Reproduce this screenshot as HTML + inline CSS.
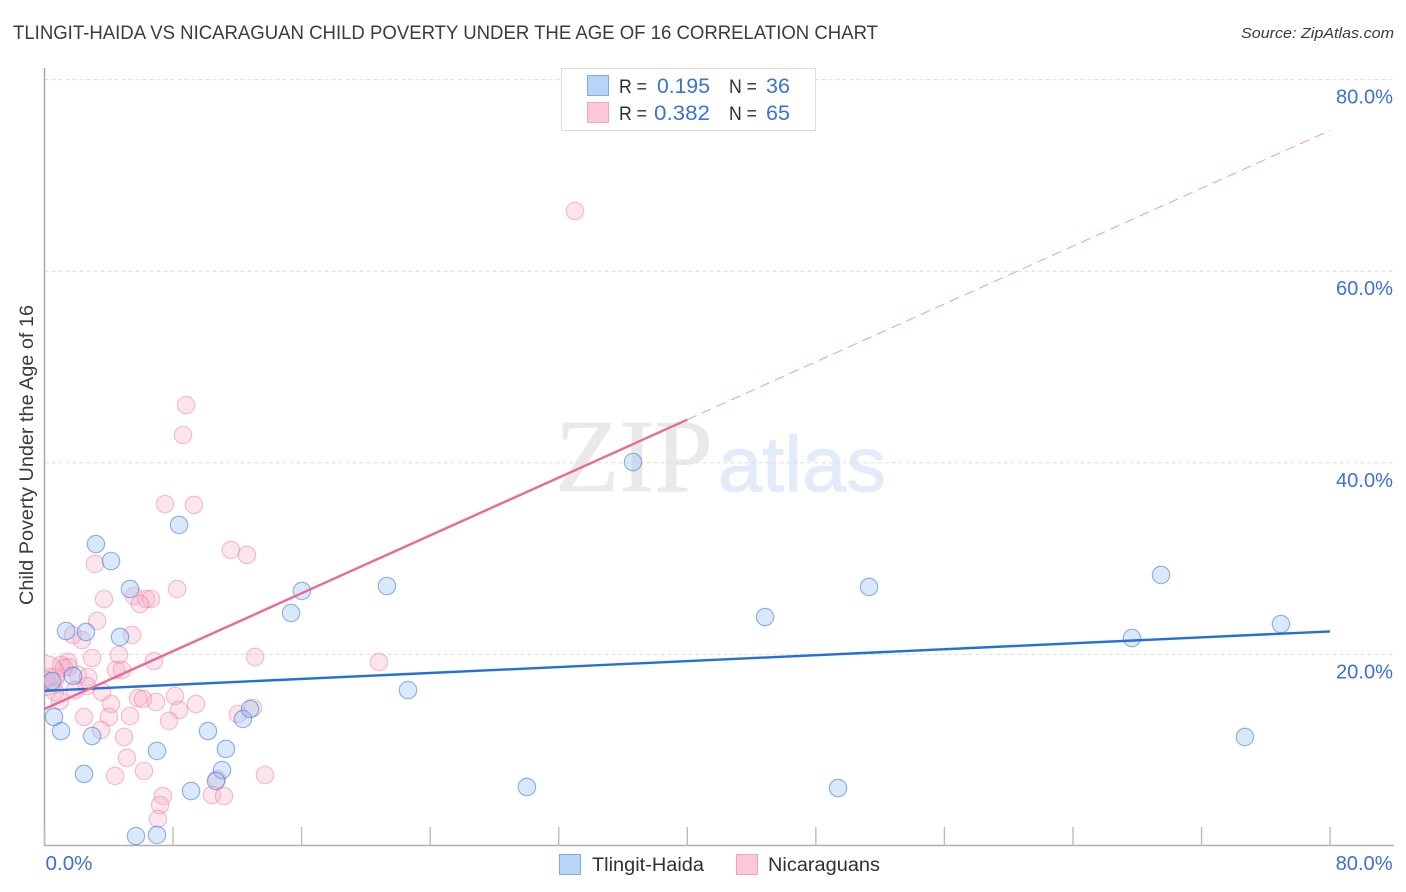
<!DOCTYPE html>
<html lang="en">
<head>
<meta charset="utf-8">
<title>Tlingit-Haida vs Nicaraguan Child Poverty Correlation Chart</title>
<style>
html,body{margin:0;padding:0;background:#fff;width:1406px;height:892px;overflow:hidden}
svg{display:block}
text{font-family:"Liberation Sans",sans-serif}
</style>
</head>
<body>
<svg id="chart" width="1406" height="892" viewBox="0 0 1406 892" xmlns="http://www.w3.org/2000/svg">
  <defs>
    <clipPath id="plot-clip"><rect x="44.5" y="60" width="1350" height="786"/></clipPath>
  </defs>
  <text x="13" y="39" font-size="19" fill="#3a3b40" textLength="865" lengthAdjust="spacingAndGlyphs">TLINGIT-HAIDA VS NICARAGUAN CHILD POVERTY UNDER THE AGE OF 16 CORRELATION CHART</text>
  <text x="1241" y="38" font-size="15" font-style="italic" fill="#3a3a3a" textLength="153" lengthAdjust="spacingAndGlyphs">Source: ZipAtlas.com</text>

  <g>
    <text x="555" y="491" font-size="104" fill="#e9e9e9" stroke="#e9e9e9" stroke-width="0.8" textLength="158" lengthAdjust="spacingAndGlyphs" style="font-family:'Liberation Serif',serif">ZIP</text>
    <text x="718" y="491" font-size="78" fill="#e2ebf9" stroke="#e2ebf9" stroke-width="1" textLength="168" lengthAdjust="spacingAndGlyphs">atlas</text>
  </g>

  <g id="grid"></g>
  <g id="axes"></g>
  <g id="y-labels"></g>
  <g id="x-labels"></g>
  <g id="pink-points" clip-path="url(#plot-clip)"></g>
  <g id="blue-points" clip-path="url(#plot-clip)"></g>
  <g id="trends"></g>

  <text transform="translate(33,605) rotate(-90)" font-size="19" fill="#3a3b40" textLength="300" lengthAdjust="spacingAndGlyphs">Child Poverty Under the Age of 16</text>

  <g>
    <rect x="561.5" y="68.5" width="254" height="62" fill="#fff" stroke="#dcdcdc"/>
    <rect x="587.5" y="75.5" width="21" height="20" fill="#b9d4f8" stroke="#7fabe0"/>
    <rect x="587.5" y="102.5" width="21" height="20" fill="#fcc8d9" stroke="#f0a6bf"/>
    <text x="619" y="93" font-size="19" fill="#2f3036" textLength="28" lengthAdjust="spacingAndGlyphs">R =</text>
    <text x="657" y="93" font-size="21" fill="#3c72d2" textLength="53" lengthAdjust="spacingAndGlyphs">0.195</text>
    <text x="729" y="93" font-size="19" fill="#2f3036" textLength="28" lengthAdjust="spacingAndGlyphs">N =</text>
    <text x="766" y="93" font-size="21" fill="#3c72d2" textLength="24" lengthAdjust="spacingAndGlyphs">36</text>
    <text x="619" y="120" font-size="19" fill="#2f3036" textLength="28" lengthAdjust="spacingAndGlyphs">R =</text>
    <text x="654" y="120" font-size="21" fill="#3c72d2" textLength="56" lengthAdjust="spacingAndGlyphs">0.382</text>
    <text x="729" y="120" font-size="19" fill="#2f3036" textLength="28" lengthAdjust="spacingAndGlyphs">N =</text>
    <text x="766" y="120" font-size="21" fill="#3c72d2" textLength="24" lengthAdjust="spacingAndGlyphs">65</text>
  </g>

  <g>
    <rect x="559.5" y="854.5" width="21" height="20" fill="#b9d4f8" stroke="#7fabe0"/>
    <text x="592" y="871" font-size="19" fill="#2f3036" textLength="112" lengthAdjust="spacingAndGlyphs">Tlingit-Haida</text>
    <rect x="736.5" y="854.5" width="21" height="20" fill="#fcc8d9" stroke="#f0a6bf"/>
    <text x="768" y="871" font-size="19" fill="#2f3036" textLength="112" lengthAdjust="spacingAndGlyphs">Nicaraguans</text>
  </g>
</svg>
<script>
const yTickValues = [20, 40, 60, 80];
const yTickLabels = ["20.0%", "40.0%", "60.0%", "80.0%"];
const xTickValues = [0, 8, 16, 24, 32, 40, 48, 56, 64, 72, 80];
const xEndValues = [0, 80];
const xEndLabels = ["0.0%", "80.0%"];

const blueX = [5.69,7.0,9.12,11.05,10.67,2.46,2.96,1.03,0.59,0.47,1.77,1.34,2.58,4.70,5.32,4.14,3.2,8.37,7.0,10.17,11.29,12.35,12.79,15.34,16.02,21.31,22.62,30.02,36.62,44.84,49.38,51.31,67.67,69.48,74.7,76.94];
const blueY = [1.04,1.15,5.74,7.93,6.78,7.52,11.48,12.0,13.47,17.22,17.75,22.44,22.34,21.82,26.83,29.75,31.52,33.51,9.92,12.0,10.13,13.26,14.3,24.32,26.62,27.14,16.28,6.16,40.08,23.9,6.05,27.04,21.71,28.29,11.38,23.17];

const pinkX = [33.01,8.81,8.62,7.5,9.3,11.6,12.6,3.14,8.25,3.7,5.57,6.32,6.63,5.94,3.27,5.45,1.77,2.33,4.64,2.96,6.81,13.1,20.81,1.46,1.03,1.52,1.21,4.45,4.82,2.08,2.71,0.65,0.34,0.09,2.64,3.58,1.9,0.65,0.96,4.14,5.82,6.13,6.94,8.12,8.37,9.43,4.01,2.46,5.32,7.75,12.04,12.97,3.52,4.95,5.13,4.39,6.19,13.72,10.73,7.37,7.19,7.06,10.42,11.17,0.0];
const pinkY = [66.28,46.03,42.9,35.7,35.6,30.9,30.38,29.44,26.83,25.78,26.1,25.78,25.78,25.26,23.49,22.03,22.03,21.5,19.94,19.62,19.31,19.73,19.21,19.21,18.89,18.68,18.58,18.37,18.37,17.85,17.64,17.64,17.64,17.33,16.7,16.08,16.28,16.08,15.14,14.82,15.45,15.34,15.03,15.66,14.2,14.82,13.47,13.47,13.57,13.05,13.78,14.41,12.11,11.38,9.19,7.31,7.83,7.41,6.99,5.22,4.28,2.82,5.32,5.22,17.8];
const pinkWeights = [1,1,1,1,1,1,1,1,1,1,1,1,1,1,1,1,1,1,1,1,1,1,1,1,1,1,1,1,1,1,1,1,1,1,1,1,1,1,1,1,1,1,1,1,1,1,1,1,1,1,1,1,1,1,1,1,1,1,1,1,1,1,1,1,2.3];

const blueTrendY = [16.2, 22.4];
const pinkTrendY = [14.3, 44.5, 74.7];
const trendX = [0, 40, 80];

const NS = "http://www.w3.org/2000/svg";
const px = v => 44.5 + v * 16.07;
const py = v => 846 - v * 9.58;
function mk(tag, parentId, attrs) {
  const el = document.createElementNS(NS, tag);
  for (const k in attrs) el.setAttribute(k, attrs[k]);
  document.getElementById(parentId).appendChild(el);
  return el;
}

yTickValues.forEach((v, i) => {
  const line = mk("line", "grid", {x1: 44.5, x2: 1394, y1: py(v), y2: py(v), stroke: "#dddddd", "stroke-width": 1, "stroke-dasharray": "4 3"});
  
  
  const t = mk("text", "y-labels", {x: 1336, y: py(v) + 24, "font-size": 20, fill: "#3c72d2", textLength: 57, lengthAdjust: "spacingAndGlyphs"});
  t.textContent = yTickLabels[i];
  
  
});

const yAxis = mk("line", "axes", {x1: 44.5, x2: 44.5, y1: 68, y2: 846, stroke: "#a8a8a8", "stroke-width": 1.5});


const xAxis = mk("line", "axes", {x1: 44, x2: 1394, y1: 845.5, y2: 845.5, stroke: "#b0b0b0", "stroke-width": 1.5});



xTickValues.forEach(v => {
  const tick = mk("line", "axes", {x1: px(v), x2: px(v), y1: 827, y2: 846, stroke: "#bcbcbc", "stroke-width": 1.4});
  
  
});

xEndValues.forEach((v, i) => {
  const t = mk("text", "x-labels", {x: i === 0 ? px(v) + 1 : px(v) + 5.5, y: 870, "font-size": 20, fill: "#3c72d2", textLength: i === 0 ? 47 : 57, lengthAdjust: "spacingAndGlyphs"});
  t.textContent = xEndLabels[i];
  
  
});

pinkX.forEach((v, i) => {
  const c = mk("circle", "pink-points", {cx: px(v), cy: py(pinkY[i]), r: 8.7 * pinkWeights[i], fill: "rgba(250,170,195,0.3)", stroke: "rgba(236,120,160,0.45)", "stroke-width": 1.2});
  
  
});

blueX.forEach((v, i) => {
  const c = mk("circle", "blue-points", {cx: px(v), cy: py(blueY[i]), r: 8.7, fill: "rgba(150,195,245,0.36)", stroke: "rgba(50,110,210,0.5)", "stroke-width": 1.2});
  
  
});

const blueLine = mk("line", "trends", {x1: px(trendX[0]), y1: py(blueTrendY[0]), x2: px(trendX[2]), y2: py(blueTrendY[1]), stroke: "#2270d8", "stroke-width": 2.4});


const pinkLine = mk("line", "trends", {x1: px(trendX[0]), y1: py(pinkTrendY[0]), x2: px(trendX[1]), y2: py(pinkTrendY[1]), stroke: "#e96a95", "stroke-width": 2.4});


const pinkDash = mk("line", "trends", {x1: px(trendX[1]), y1: py(pinkTrendY[1]), x2: px(trendX[2]), y2: py(pinkTrendY[2]), stroke: "#ee9ab5", "stroke-width": 1, "stroke-dasharray": "10 6"});


</script>
</body>
</html>
